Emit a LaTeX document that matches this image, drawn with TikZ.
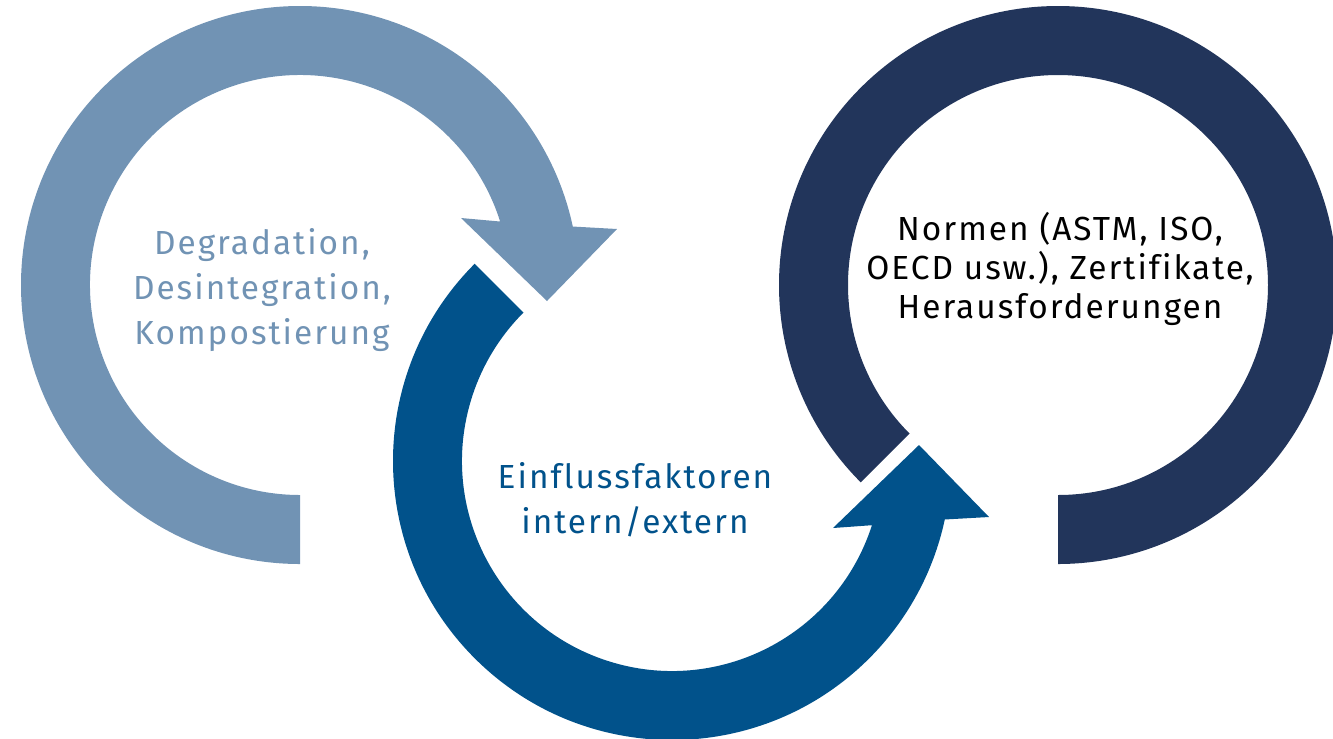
\documentclass[tikz,border=0pt]{standalone}
\usepackage{fontspec}
\setmainfont{Fira Sans}
\newfontfamily\labelfont[LetterSpace=6,Ligatures=NoCommon]{Fira Sans}
\usetikzlibrary{calc}

\definecolor{ringlight}{HTML}{7193B4}
\definecolor{ringmid}{HTML}{01528B}
\definecolor{ringdark}{HTML}{22355B}

\begin{document}
\begin{tikzpicture}[
    label text/.style={align=center,inner sep=0pt,font=\labelfont\fontsize{9.5}{12.8}\selectfont}
  ]
\useasboundingbox (0,0) rectangle (13.33,-7.38);
\clip (0,0) rectangle (13.33,-7.38);

\coordinate (cl) at (3.00,-2.85);
\coordinate (cm) at (6.72,-4.61);
\coordinate (cr) at (10.58,-2.85);

% left ring, head pointing down into the middle ring
\fill[ringlight] (cl) ++(270:2.79) arc[start angle=270,end angle=12.1,radius=2.79]
  -- (6.17,-2.29) -- (5.47,-3.01) -- (4.61,-2.18)
  -- ($(cl)+(17.6:2.10)$) arc[start angle=17.6,end angle=270,radius=2.10] -- cycle;

% middle ring, head pointing up into the right ring
\fill[ringmid] (cm) ++(135:2.79) arc[start angle=135,end angle=347.9,radius=2.79]
  -- (9.89,-5.17) -- (9.19,-4.45) -- (8.33,-5.28)
  -- ($(cm)+(342.2:2.10)$) arc[start angle=342.2,end angle=135,radius=2.10] -- cycle;

% right ring, no head
\fill[ringdark] (cr) ++(225:2.79) arc[start angle=225,end angle=-90,radius=2.79]
  -- ++(0,0.69) arc[start angle=-90,end angle=225,radius=2.10] -- cycle;

\node[label text,text=ringlight] (deg) at (2.62,-2.90) {Degradation,\\Desintegration,\\Kompostierung};
\node[label text,text=ringmid] (einfl) at (6.35,-5.00) {Einflussfaktoren\\intern/extern};
\node[label text,text=black,font=\labelfont\fontsize{9.5}{11.1}\selectfont] (normen) at (10.60,-2.69) {Normen (ASTM, ISO,\\OECD usw.), Zertifikate,\\Herausforderungen};
\end{tikzpicture}
\end{document}
